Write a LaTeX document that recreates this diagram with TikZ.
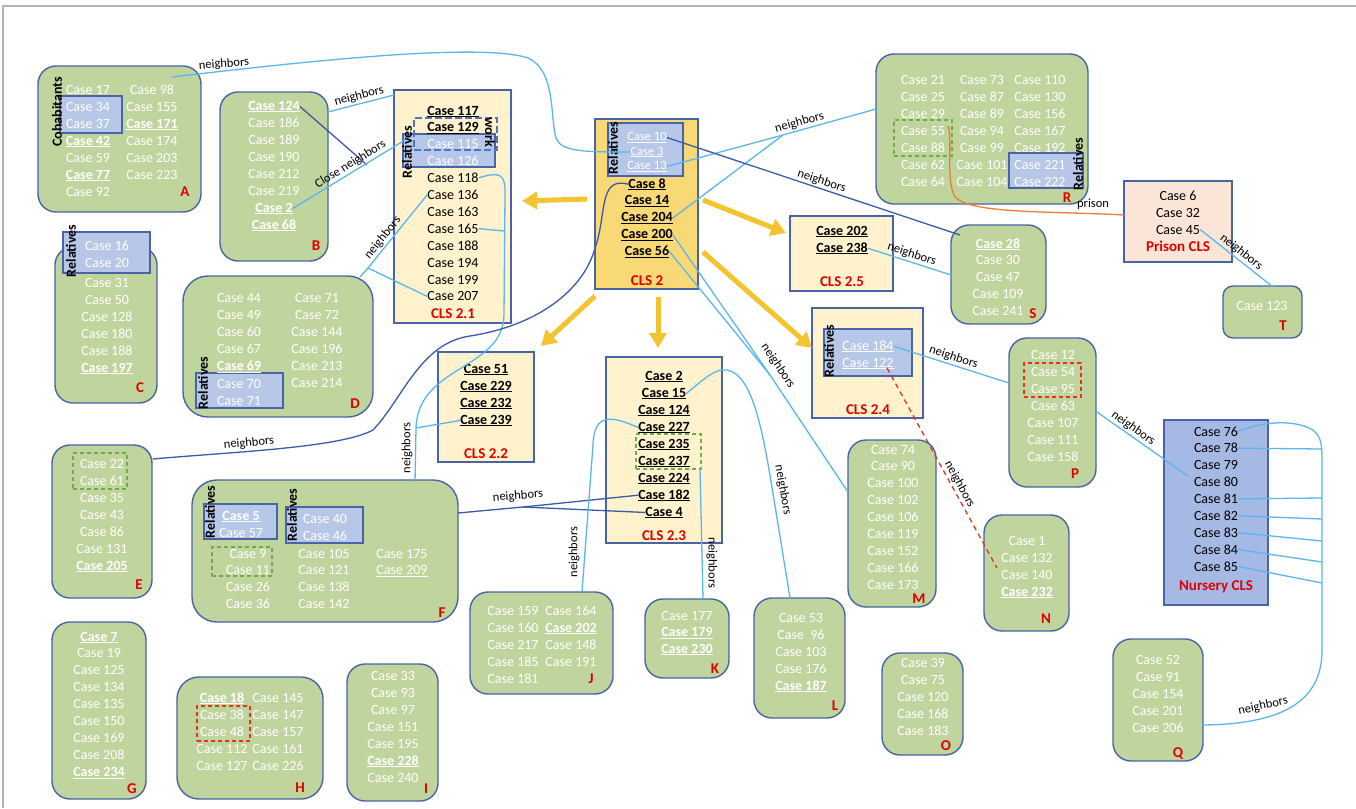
\documentclass[tikz,border=0pt]{standalone}
\usepackage{fontspec}
\setmainfont{Carlito}
\usetikzlibrary{arrows.meta}
\definecolor{gfill}{RGB}{192,213,158}
\definecolor{bord}{RGB}{72,100,165}
\definecolor{relfill}{RGB}{182,199,232}
\definecolor{clsfill}{RGB}{255,242,204}
\definecolor{cls2fill}{RGB}{249,217,118}
\definecolor{prfill}{RGB}{251,229,214}
\definecolor{nufill}{RGB}{166,185,228}
\definecolor{lblue}{RGB}{91,182,238}
\definecolor{dblue}{RGB}{60,90,165}
\definecolor{ylw}{RGB}{244,196,48}
\definecolor{orng}{RGB}{237,125,49}
\definecolor{labred}{RGB}{224,0,0}
\definecolor{rdash}{RGB}{230,50,30}
\definecolor{gdash}{RGB}{112,173,71}
\definecolor{wkc}{RGB}{85,115,195}
\newcommand\fs{\fontsize{14}{17}\selectfont}
\newcommand\fsm{\fontsize{12.5}{15}\selectfont}
\newcommand\fsl{\fontsize{15}{18}\selectfont}
\newcommand\bu[1]{\textbf{\underline{#1}}}
\newcommand\uln[1]{\underline{#1}}
\newcommand\bx[6]{\node[#1, minimum width={#5pt-#3pt}, minimum height={#6pt-#4pt}] (#2) at ({(#3+#5)/2},{(#4+#6)/2}) {};}
\newcommand\col[6]{\foreach \ctext [count=\i] in {#6} {\node[#2] (#1-\i) at (#3,{#4+#5*(\i-1)}) {\ctext};}}
\tikzset{
 txt/.style={font=\fs, anchor=base, yshift=-5pt, inner sep=0pt},
 wt/.style={txt, text=white},
 bt/.style={txt, text=black},
 smw/.style={font=\fsm, anchor=base, yshift=-4.5pt, inner sep=0pt, text=white},
 lab/.style={font=\fsl\bfseries, text=labred, anchor=base, yshift=-5.5pt, inner sep=0pt},
 rel/.style={font=\fs\bfseries, text=black, rotate=90, inner sep=0},
 nb/.style={font=\fsm, text=black, inner sep=1.5pt},
 gbox/.style={draw=bord, fill=gfill, line width=1.4pt, rounded corners=18pt, inner sep=0, outer sep=0},
 rbox/.style={draw=bord, fill=relfill, line width=1.3pt, inner sep=0, outer sep=0},
 cbox/.style={draw=bord, fill=clsfill, line width=1.3pt, inner sep=0, outer sep=0},
 c2box/.style={cbox, fill=cls2fill},
 pbox/.style={cbox, fill=prfill},
 nbox/.style={cbox, fill=nufill},
 gd/.style={draw=gdash, dash pattern=on 4pt off 3pt, line width=1.8pt, inner sep=0},
 rd/.style={draw=rdash, dash pattern=on 4pt off 3pt, line width=2pt, inner sep=0},
 wk/.style={draw=wkc, dash pattern=on 7pt off 3pt, line width=2.6pt, inner sep=0},
 lb/.style={draw=lblue, line width=1.3pt},
 db/.style={draw=dblue, line width=1.3pt},
 rdl/.style={draw=rdash, line width=1.3pt, dash pattern=on 5pt off 4pt},
 orl/.style={draw=orng, line width=1.3pt},
 ya/.style={draw=ylw, line width=5pt, -{Triangle[length=15pt,width=17pt]}},
}
\begin{document}
\begin{tikzpicture}[x=1pt,y=-1pt]
\useasboundingbox (0,0) rectangle (1356,808);
\fill[white] (0,0) rectangle (1356,808);
\draw[gray!60, line width=1.2pt] (3,808) -- (3,6) -- (1356,6);
% ---------- boxes
\bx{gbox}{Ab}{38}{66}{201}{212}
\bx{rbox}{Arel}{60}{96}{122}{133}
\bx{gbox}{Bb}{220}{92}{328}{261}
\bx{cbox}{C21b}{394}{90}{511}{323}
\bx{rbox}{C21rel}{403}{134}{495}{167}
\bx{wk}{C21wk}{414}{118}{497}{150}
\bx{c2box}{C2b}{595}{119}{698}{289}
\bx{rbox}{C2rel}{608}{123}{683}{176}
\bx{gbox}{Rb}{876}{54}{1088}{204}
\bx{gd}{Rgd}{894}{120}{952}{156}
\bx{rbox}{Rrel}{1009}{153}{1083}{188}
\bx{pbox}{Prb}{1124}{181}{1232}{262}
\bx{gbox,rounded corners=10pt}{Tb}{1223}{286}{1302}{338}
\bx{nbox}{Nub}{1164}{420}{1268}{605}
\bx{gbox}{Qb}{1113}{639}{1203}{761}
\bx{cbox}{C25b}{790}{216}{893}{291}
\bx{gbox}{Sb}{951}{225}{1046}{324}
\bx{cbox}{C24b}{812}{308}{923}{418}
\bx{rbox}{C24rel}{824}{329}{912}{376}
\bx{gbox}{Pb}{1009}{338}{1096}{487}
\bx{rd}{Prd}{1024}{363}{1081}{397}
\bx{gbox}{Mb}{848}{440}{936}{607}
\bx{gbox}{Nb}{984}{515}{1069}{631}
\bx{gbox}{Ob}{882}{653}{963}{755}
\bx{cbox}{C22b}{438}{352}{534}{462}
\bx{cbox}{C23b}{606}{357}{722}{543}
\bx{gd}{C23gd}{636}{434}{701}{469}
\bx{gbox}{Jb}{470}{592}{613}{694}
\bx{gbox}{Kb}{645}{599}{729}{678}
\bx{gbox}{Lb}{754}{598}{845}{718}
\bx{gbox}{Cb}{55}{247}{157}{403}
\bx{rbox}{Crel}{63}{232}{150}{273}
\bx{gbox,rounded corners=25pt}{Db}{183}{276}{373}{417}
\bx{rbox}{Drel}{196}{373}{283}{408}
\bx{gbox}{Eb}{52}{445}{152}{598}
\bx{gd}{Egd}{73}{453}{127}{489}
\bx{gbox,rounded corners=25pt}{Fb}{192}{480}{458}{622}
\bx{rbox}{Frel1}{204}{504}{277}{539}
\bx{rbox}{Frel2}{286}{507}{363}{543}
\bx{gd}{Fgd}{212}{547}{272}{576}
\bx{gbox}{Gb}{52}{622}{146}{799}
\bx{gbox,rounded corners=22pt}{Hb}{177}{677}{323}{799}
\bx{rd}{Hrd}{197}{706}{250}{741}
\bx{gbox}{Ib}{347}{664}{438}{801}
% ---------- rotated labels
\node[rel] (relA) at (57,112) {Cohabitants};
\node[rel] (relC) at (71,251) {Relatives};
\node[rel] (relD) at (203,383) {Relatives};
\node[rel] (relF1) at (210,512) {Relatives};
\node[rel] (relF2) at (292,515) {Relatives};
\node[rel] (rel21) at (407,152) {Relatives};
\node[font=\fs\bfseries, rotate=-90, inner sep=0] (work) at (490,132) {work};
\node[rel] (rel2) at (613,148) {Relatives};
\node[rel] (rel24) at (829,351) {Relatives};
\node[rel] (relR) at (1078,164) {Relatives};
% ---------- texts
\col{A1}{wt}{88}{89}{17}{Case 17, Case 34, Case 37, \bu{Case 42}, Case 59, \bu{Case 77}, Case 92}
\col{A2}{wt}{152}{89}{17}{Case 98, Case 155, \bu{Case 171}, Case 174, Case 203, Case 223}
\node[lab] (LA) at (185,191) {A};
\col{B}{wt}{274}{105}{17}{\bu{Case 124}, Case 186, Case 189, Case 190, Case 212, Case 219, \bu{Case 2}, \bu{Case 68}}
\node[lab] (LB) at (316,245) {B};
\col{C21}{bt}{453}{110}{16.9}{\bu{Case 117}, \bu{Case 129}, \textcolor{white}{Case 115}, \textcolor{white}{Case 126}, Case 118, Case 136, Case 163, Case 165, Case 188, Case 194, Case 199, Case 207}
\node[lab] (L21) at (453,313) {CLS 2.1};
\col{C2s}{smw}{647}{136}{14.5}{\uln{Case 10}, \uln{Case 3}, \uln{Case 13}}
\col{C2}{bt}{647}{183}{16.8}{\bu{Case 8}, \bu{Case 14}, \bu{Case 204}, \bu{Case 200}, \bu{Case 56}}
\node[lab] (L2) at (647,280) {CLS 2};
\col{R1}{wt}{923}{79}{17}{Case 21, Case 25, Case 29, Case 55, Case 88, Case 62, Case 64}
\col{R2}{wt}{982}{79}{17}{Case 73, Case 87, Case 89, Case 94, Case 99, Case 101, Case 104}
\col{R3}{wt}{1040}{79}{17}{Case 110, Case 130, Case 156, Case 167, Case 192, Case 221, Case 222}
\node[lab] (LR) at (1067,197) {R};
\col{Pr}{bt}{1178}{195}{17}{Case 6, Case 32, Case 45}
\node[lab] (LPr) at (1178,246) {Prison CLS};
\col{T}{wt}{1262}{305}{17}{Case 123}
\node[lab] (LT) at (1283,325) {T};
\col{Nu}{bt}{1216}{431}{16.9}{Case 76, Case 78, Case 79, Case 80, Case 81, Case 82, Case 83, Case 84, Case 85}
\node[lab] (LNu) at (1216,585) {Nursery CLS};
\col{Q}{wt}{1158}{659}{17}{Case 52, Case 91, Case 154, Case 201, Case 206}
\node[lab] (LQ) at (1178,752) {Q};
\col{C25}{bt}{842}{230}{17}{\bu{Case 202}, \bu{Case 238}}
\node[lab] (L25) at (842,281) {CLS 2.5};
\col{S}{wt}{998}{243}{16.75}{\bu{Case 28}, Case 30, Case 47, Case 109, Case 241}
\node[lab] (LS) at (1033,313) {S};
\col{C24}{wt}{868}{345}{17}{\uln{Case 184}, \uln{Case 122}}
\node[lab] (L24) at (868,409) {CLS 2.4};
\col{P}{wt}{1053}{354}{17}{Case 12, Case 54, Case 95, Case 63, Case 107, Case 111, Case 158}
\node[lab] (LP) at (1075,473) {P};
\col{M}{wt}{893}{449}{16.9}{Case 74, Case 90, Case 100, Case 102, Case 106, Case 119, Case 152, Case 166, Case 173}
\node[lab] (LM) at (919,598) {M};
\col{N}{wt}{1027}{540}{17}{Case 1, Case 132, Case 140, \bu{Case 232}}
\node[lab] (LN) at (1046,618) {N};
\col{O}{wt}{923}{662}{17}{Case 39, Case 75, Case 120, Case 168, Case 183}
\node[lab] (LO) at (946,745) {O};
\col{C22}{bt}{486}{368}{17}{\bu{Case 51}, \bu{Case 229}, \bu{Case 232}, \bu{Case 239}}
\node[lab] (L22) at (486,453) {CLS 2.2};
\col{C23}{bt}{664}{375}{17}{\bu{Case 2}, \bu{Case 15}, \bu{Case 124}, \bu{Case 227}, \bu{Case 235}, \bu{Case 237}, \bu{Case 224}, \bu{Case 182}, \bu{Case 4}}
\node[lab] (L23) at (664,535) {CLS 2.3};
\col{J1}{wt}{513}{610}{17}{Case 159, Case 160, Case 217, Case 185, Case 181}
\col{J2}{wt}{571}{610}{17}{Case 164, \bu{Case 202}, Case 148, Case 191}
\node[lab] (LJ) at (591,678) {J};
\col{K}{wt}{687}{615}{16.5}{Case 177, \bu{Case 179}, \bu{Case 230}}
\node[lab] (LK) at (715,668) {K};
\col{Lc}{wt}{801}{617}{17}{Case 53, Case \ 96, Case 103, Case 176, \bu{Case 187}}
\node[lab] (LL) at (835,705) {L};
\col{Cx}{wt}{107}{245}{17}{Case 16, Case 20}
\col{Cy}{wt}{107}{282}{17}{Case 31, Case 50, Case 128, Case 180, Case 188, \bu{Case 197}}
\node[lab] (LC) at (140,387) {C};
\col{D1}{wt}{239}{297}{17.2}{Case 44, Case 49, Case 60, Case 67, \bu{Case 69}, Case 70, Case 71}
\col{D2}{wt}{317}{297}{17}{Case 71, Case 72, Case 144, Case 196, Case 213, Case 214}
\node[lab] (LD) at (355,403) {D};
\col{E}{wt}{102}{463}{17}{Case 22, Case 61, Case 35, Case 43, Case 86, Case 131, \bu{Case 205}}
\node[lab] (LE) at (139,584) {E};
\col{Fr1}{wt}{241}{515}{17}{\bu{Case 5}, Case 57}
\col{Fr2}{wt}{325}{518}{17}{Case 40, Case 46}
\col{F1}{wt}{248}{553}{16.7}{Case 9, Case 11, Case 26, Case 36}
\col{F2}{wt}{324}{553}{16.7}{Case 105, Case 121, Case 138, Case 142}
\col{F3}{wt}{402}{553}{16.7}{Case 175, \uln{Case 209}}
\node[lab] (LF) at (442,612) {F};
\col{G}{wt}{99}{636}{16.9}{\bu{Case 7}, Case 19, Case 125, Case 134, Case 135, Case 150, Case 169, Case 208, \bu{Case 234}}
\node[lab] (LG) at (132,788) {G};
\col{H1}{wt}{222}{697}{17}{\bu{Case 18}, Case 38, Case 48, Case 112, Case 127}
\col{H2}{wt}{278}{697}{17}{Case 145, Case 147, Case 157, Case 161, Case 226}
\node[lab] (LH) at (300,787) {H};
\col{I}{wt}{393}{675}{17}{Case 33, Case 93, Case 97, Case 151, Case 195, \bu{Case 228}, Case 240}
\node[lab] (LI) at (426,788) {I};
% ---------- coordinates
\coordinate (aN) at (172,77);
\coordinate (bR) at (328,112);
\coordinate (c21L) at (394,95);
\coordinate (cnJ) at (367,165);
\coordinate (c21r) at (405,140);
\coordinate (fT) at (415,482);
\coordinate (jF) at (416,428);
\coordinate (j165) at (504,231);
\coordinate (jD) at (368,268);
\coordinate (dC) at (360,277);
\coordinate (rL) at (876,109);
\coordinate (jR) at (783,135);
\coordinate (sTL) at (960,235);
\coordinate (eR) at (153,459);
\coordinate (jM) at (770,375);
\coordinate (mL) at (848,492);
\coordinate (sL) at (951,275);
\coordinate (pL) at (1009,383);
\coordinate (c122) at (887,368);
\coordinate (nP) at (997,568);
\coordinate (pR) at (1097,412);
\coordinate (n80) at (1188,476);
\coordinate (tT) at (1273,287);
\coordinate (r55) at (948,126);
\coordinate (prL) at (1124,215);
\coordinate (fR) at (458,513);
\coordinate (jF2) at (523,507);
\coordinate (jT) at (582,592);
\coordinate (gdB) at (700,469);
\coordinate (kT) at (703,599);
\coordinate (lT) at (790,598);
\coordinate (qR) at (1203,725);
% ---------- yellow arrows
\coordinate (y1s) at (587,199); \coordinate (y1e) at (522,201);
\coordinate (y2s) at (595,296); \coordinate (y2e) at (541,346);
\coordinate (y3s) at (658,297); \coordinate (y3e) at (658,348);
\coordinate (y4s) at (703,200); \coordinate (y4e) at (786,233);
\coordinate (y5s) at (703,252); \coordinate (y5e) at (812,348);
\draw[ya] (y1s) -- (y1e);
\draw[ya] (y2s) -- (y2e);
\draw[ya] (y3s) -- (y3e);
\draw[ya] (y4s) -- (y4e);
\draw[ya] (y5s) -- (y5e);
% ---------- connectors
\draw[lb] (aN) .. controls (300,62) and (480,42) .. (528,58) .. controls (556,70) and (550,118) .. (556,138) .. controls (561,152) and (585,152) .. (C2s-2.west);
\node[nb, rotate=4] (lbA) at (224,64) {neighbors};
\draw[lb] (bR) -- node[nb, sloped, above] (lbB) {neighbors} (c21L);
\draw[db] (B-1.east) -- (cnJ);
\draw[lb] (B-7.east) -- node[nb, sloped, above, pos=0.55] (lbCN) {Close neighbors} (c21r);
\draw[lb] (C21-5.east) .. controls (498,172) and (506,172) .. (505,195) -- (504,315) .. controls (503,370) and (418,365) .. (jF) -- (fT);
\draw[lb] (C21-8.east) -- (j165);
\draw[lb] (C22-4.west) -- (jF);
\node[nb, rotate=90] (lbF) at (407,448) {neighbors};
\draw[lb] (jD) -- node[nb, sloped, above, pos=0.35] (lbD) {neighbors} (C21-6.west);
\draw[lb] (dC) -- (jD) -- (C21-12.west);
\draw[lb] (C2s-3.east) -- (jR) -- node[nb, sloped, above, pos=0.2] (lbR) {neighbors} (rL);
\draw[lb] (C2-3.east) -- (jR);
\draw[db] (C2s-1.east) -- node[nb, sloped, above, pos=0.52] (lbS1) {neighbors} (sTL);
\draw[db] (C2-1.west) .. controls (598,176) and (607,215) .. (595,248) .. controls (583,292) and (535,326) .. (470,336) .. controls (420,343) and (402,400) .. (373,430) .. controls (340,448) and (230,452) .. (eR);
\node[nb, rotate=5] (lbE) at (249,443) {neighbors};
\draw[lb] (C2-4.east) -- (jM) -- (mL);
\draw[lb] (C2-5.east) -- (jM);
\node[nb, rotate=-56] (lbM) at (778,366) {neighbors};
\draw[lb] (C25-2.east) -- node[nb, sloped, above] (lbS2) {neighbors} (sL);
\draw[lb] (C24-1.east) -- node[nb, sloped, above] (lbP) {neighbors} (pL);
\draw[rdl] (c122) -- node[nb, sloped, above, pos=0.6] (lbN) {neighbors} (nP);
\draw[lb] (pR) -- node[nb, sloped, above, pos=0.35] (lbNu) {neighbors} (n80);
\draw[lb] (Pr-3.east) -- node[nb, sloped, above] (lbT) {neighbors} (tT);
\draw[orl] (r55) .. controls (953,140) and (945,185) .. (956,198) .. controls (975,214) and (1050,211) .. (prL);
\node[nb] (lbPr) at (1093,204) {prison};
\draw[db] (fR) -- (jF2) -- (C23-8.west);
\draw[db] (jF2) -- (C23-9.west);
\node[nb, rotate=5] (lbF2) at (518,496) {neighbors};
\draw[lb] (C23-4.west) .. controls (612,416) and (594,412) .. (593,445) -- (jT);
\node[nb, rotate=90] (lbJ) at (574,552) {neighbors};
\draw[lb] (gdB) -- (kT);
\node[nb, rotate=-90] (lbK) at (712,563) {neighbors};
\draw[lb] (C23-2.east) .. controls (703,380) and (715,368) .. (727,370) .. controls (752,374) and (762,430) .. (770,475) -- (lT);
\node[nb, rotate=-80] (lbL) at (783,490) {neighbors};
\draw[lb] (Nu-1.east) .. controls (1270,419) and (1300,421) .. (1314,431) .. controls (1321,437) and (1322,445) .. (1322,460) -- (1322,650) .. controls (1322,700) and (1285,724) .. (qR);
\node[nb, rotate=12] (lbQ) at (1263,706) {neighbors};
\foreach \k/\ey in {2/449, 5/498, 6/519, 7/541, 8/562, 9/583} {
  \coordinate (nuj\k) at (1322,\ey);
  \draw[lb] (Nu-\k.east) -- (nuj\k);
}
\end{tikzpicture}
\end{document}
